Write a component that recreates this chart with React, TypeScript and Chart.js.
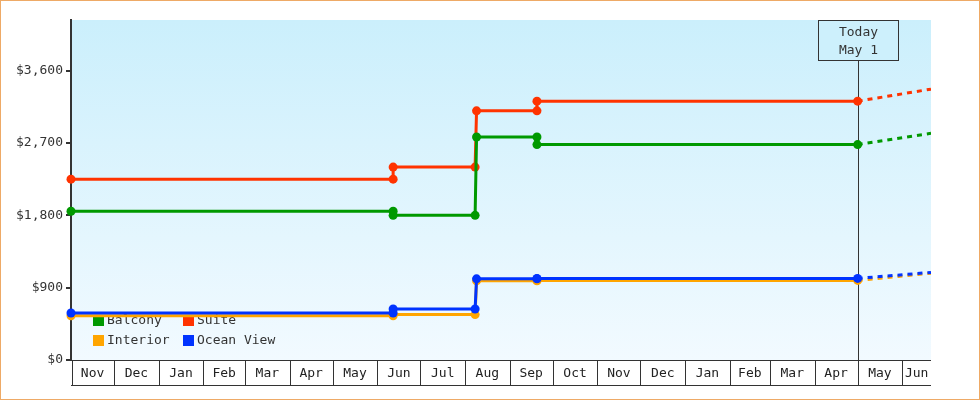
import React, { useEffect, useRef } from "react";
import { Chart, registerables } from "chart.js";

Chart.register(...registerables);

// ---- data ----
const startDate = "2023-11-01";
const endDate = "2025-06-21";
const todayDate = "2025-05-01";
const todayLines = ["Today", "May 1"];

const monthLabels = [
  "Nov", "Dec", "Jan", "Feb", "Mar", "Apr", "May", "Jun", "Jul", "Aug",
  "Sep", "Oct", "Nov", "Dec", "Jan", "Feb", "Mar", "Apr", "May", "Jun",
];

const yTicks = [0, 900, 1800, 2700, 3600];
const yMax = 4230;

const stepDates = [
  "2023-11-01", "2024-06-12", "2024-06-12", "2024-08-08",
  "2024-08-09", "2024-09-20", "2024-09-20", "2025-05-01",
];
const balcony = [1850, 1850, 1800, 1800, 2775, 2775, 2680, 2680];
const suite = [2250, 2250, 2400, 2400, 3100, 3100, 3220, 3220];
const interior = [550, 550, 565, 565, 985, 985, 990, 990];
const oceanView = [585, 585, 635, 635, 1010, 1010, 1015, 1015];

const projDates = ["2025-05-01", "2025-06-21"];
const balconyProj = [2680, 2820];
const suiteProj = [3220, 3370];
const interiorProj = [990, 1080];
const oceanViewProj = [1015, 1090];

const seriesNames = ["Balcony", "Suite", "Interior", "Ocean View"];
const seriesColors = ["#009900", "#ff3300", "#ffa500", "#0033ff"];

// ---- helpers ----
const parse = (s: string) => {
  const [y, m, d] = s.split("-").map(Number);
  return Date.UTC(y, m - 1, d);
};
const dayOf = (s: string) => Math.round((parse(s) - parse(startDate)) / 86400000);
const pts = (dates: string[], vals: number[]) =>
  dates.map((d, i) => ({ x: dayOf(d), y: vals[i] }));

const FONT = "DejaVu Sans Mono";

export default function App() {
  const ref = useRef<HTMLCanvasElement>(null);

  useEffect(() => {
    document.body.style.margin = "0";
    const canvas = ref.current;
    if (!canvas) return;

    const solid = [balcony, suite, interior, oceanView];
    const proj = [balconyProj, suiteProj, interiorProj, oceanViewProj];
    const drawOrder = [2, 3, 4, 1]; // blue on top of orange

    const datasets: any[] = [];
    seriesNames.forEach((name, i) => {
      datasets.push({
        label: name,
        data: pts(stepDates, solid[i]),
        borderColor: seriesColors[i],
        backgroundColor: seriesColors[i],
        borderWidth: 3,
        pointRadius: 4.5,
        pointBorderWidth: 0,
        pointBackgroundColor: seriesColors[i],
        tension: 0,
        clip: false,
        order: drawOrder[i],
        isLegend: true,
      });
    });
    seriesNames.forEach((name, i) => {
      datasets.push({
        label: name + " projection",
        data: pts(projDates, proj[i]),
        borderColor: seriesColors[i],
        borderWidth: 3,
        borderDash: [5, 5],
        pointRadius: 0,
        tension: 0,
        order: drawOrder[i] + 4,
        isLegend: false,
      });
    });

    const bgPlugin = {
      id: "bg",
      beforeDraw(chart: any) {
        const { ctx, chartArea: a } = chart;
        const g = ctx.createLinearGradient(0, a.top, 0, a.bottom);
        g.addColorStop(0, "#cbeffc");
        g.addColorStop(1, "#f2faff");
        ctx.save();
        ctx.fillStyle = g;
        ctx.fillRect(a.left, a.top, a.right - a.left, a.bottom - a.top);
        ctx.restore();
      },
    };

    const overlayPlugin = {
      id: "overlay",
      beforeDatasetsDraw(chart: any) {
        const { ctx, chartArea: a } = chart;
        const xs = chart.scales.x;
        ctx.save();
        // legend
        const legendItems = chart.data.datasets.filter((d: any) => d.isLegend);
        ctx.font = `13px "${FONT}"`;
        ctx.textBaseline = "middle";
        ctx.textAlign = "left";
        legendItems.forEach((d: any, i: number) => {
          const col = i % 2;
          const row = Math.floor(i / 2);
          const bx = a.left + 22 + col * 90;
          const by = a.bottom - 45 + row * 20;
          ctx.fillStyle = d.borderColor;
          ctx.fillRect(bx, by, 11, 11);
          ctx.fillStyle = "#333";
          ctx.fillText(d.label, bx + 14, by + 6);
        });
        // today marker
        const tx = Math.round(xs.getPixelForValue(dayOf(todayDate))) + 0.5;
        const boxTop = a.top + 0.5;
        const boxH = 40;
        const boxW = 80;
        ctx.strokeStyle = "#333";
        ctx.lineWidth = 1;
        ctx.beginPath();
        ctx.moveTo(tx, boxTop + boxH);
        ctx.lineTo(tx, a.bottom);
        ctx.stroke();
        ctx.fillStyle = "#cdf0fc";
        ctx.fillRect(tx - boxW / 2, boxTop, boxW, boxH);
        ctx.strokeRect(tx - boxW / 2, boxTop, boxW, boxH);
        ctx.fillStyle = "#333";
        ctx.textAlign = "center";
        todayLines.forEach((t, i) => ctx.fillText(t, tx, a.top + 13 + i * 18));
        ctx.restore();
      },
      afterDraw(chart: any) {
        const { ctx, chartArea: a } = chart;
        const xs = chart.scales.x;
        ctx.save();
        ctx.strokeStyle = "#333";
        ctx.lineWidth = 1;
        const top = Math.round(a.bottom) + 0.5;
        const bot = top + 25;
        ctx.beginPath();
        ctx.moveTo(a.left, top);
        ctx.lineTo(a.right, top);
        ctx.moveTo(a.left, bot);
        ctx.lineTo(a.right, bot);
        ctx.stroke();
        ctx.font = `13px "${FONT}"`;
        ctx.textAlign = "center";
        ctx.textBaseline = "middle";
        ctx.fillStyle = "#222";
        const [sy, sm] = startDate.split("-").map(Number);
        monthLabels.forEach((lab, i) => {
          const s = Date.UTC(sy, sm - 1 + i, 1);
          const e = Date.UTC(sy, sm + i, 1);
          const ds = (s - parse(startDate)) / 86400000;
          const de = (e - parse(startDate)) / 86400000;
          const x0 = Math.max(xs.getPixelForValue(ds), a.left);
          const x1 = Math.min(xs.getPixelForValue(de), a.right);
          const lx = Math.round(x0) + 0.5 + (i === 0 ? 1 : 0);
          ctx.beginPath();
          ctx.moveTo(lx, top);
          ctx.lineTo(lx, bot);
          ctx.stroke();
          ctx.fillText(lab, (x0 + x1) / 2, top + 13);
        });
        // page border
        ctx.strokeStyle = "#eeaa66";
        ctx.strokeRect(0.5, 0.5, chart.width - 1, chart.height - 1);
        ctx.restore();
      },
    };

    const chart = new Chart(canvas, {
      type: "line",
      data: { datasets },
      options: {
        responsive: false,
        animation: false,
        events: [],
        layout: { padding: { top: 20, right: 49, bottom: 40, left: 0 } },
        plugins: { legend: { display: false }, tooltip: { enabled: false } },
        scales: {
          x: {
            type: "linear",
            display: false,
            min: 0,
            max: dayOf(endDate),
          },
          y: {
            type: "linear",
            position: "left",
            min: 0,
            max: yMax,
            afterBuildTicks: (s: any) => {
              s.ticks = yTicks.map((v) => ({ value: v }));
            },
            afterFit: (s: any) => {
              s.width = 71;
            },
            ticks: {
              color: "#333",
              padding: 3,
              font: { family: FONT, size: 13 },
              callback: (v: any) => "$" + Number(v).toLocaleString("en-US"),
            },
            grid: {
              drawOnChartArea: false,
              drawTicks: true,
              tickLength: 5,
              color: "#333",
              lineWidth: 2,
            },
            border: { display: true, color: "#333", width: 2 },
          },
        },
      } as any,
      plugins: [bgPlugin, overlayPlugin],
    });
    return () => chart.destroy();
  }, []);

  return (
    <div style={{ width: 980, height: 400 }}>
      <canvas ref={ref} width={980} height={400} style={{ display: "block" }} />
    </div>
  );
}
